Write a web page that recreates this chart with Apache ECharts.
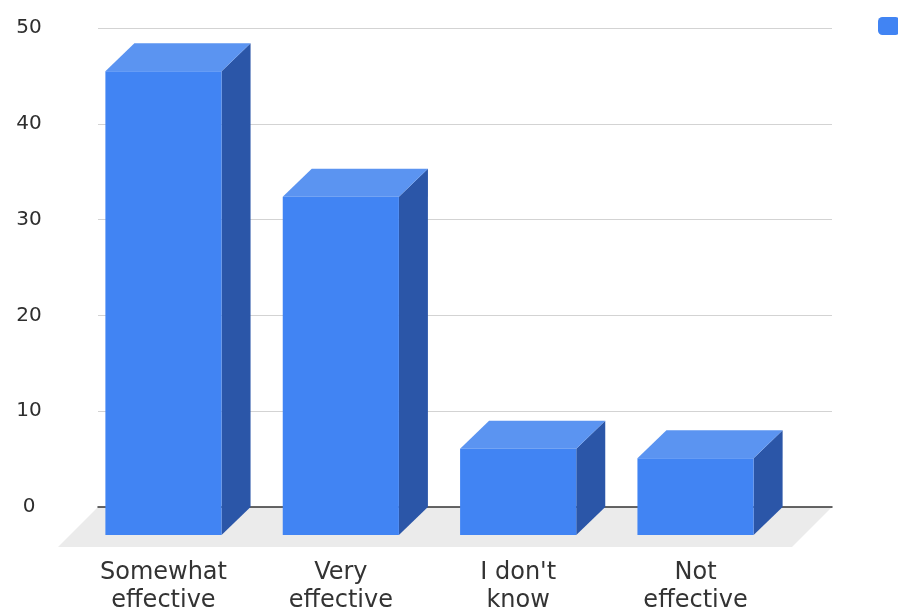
<!DOCTYPE html>
<html>
<head>
<meta charset="utf-8">
<title>Effectiveness responses</title>
<script src="https://cdn.jsdelivr.net/npm/echarts@6/dist/echarts.min.js"></script>
<style>
  html, body { margin: 0; padding: 0; background: #ffffff; }
  #chart { width: 898px; height: 615px; }
</style>
</head>
<body>
<div id="chart"></div>
<script>
// Survey answers and how many respondents chose each one
const categories = ['Somewhat effective', 'Very effective', "I don't know", 'Not effective'];
const responses = [48.4, 35.3, 9.0, 8.0];
const seriesName = 'Responses';

// Value axis range and step
const axisMin = 0;
const axisMax = 50;
const axisStep = 10;

// Pseudo-3D look: bars are extruded backwards (up and to the right)
const BAR_DEPTH_X = 29;
const BAR_DEPTH_Y = 28;
const FLOOR_DEPTH = 40;
const BAR_FILL = 0.655;

const COLOR_FRONT = '#4184f3';
const COLOR_TOP = '#5b94f1';
const COLOR_SIDE = '#2b56a8';
const COLOR_FLOOR = '#ebebeb';

const chart = echarts.init(document.getElementById('chart'), null, { renderer: 'canvas' });

function splitLabel(name) {
  const i = name.lastIndexOf(' ');
  return i < 0 ? name : name.slice(0, i) + '\n' + name.slice(i + 1);
}

// Floor plane in front of the back wall
function renderFloor(params, api) {
  const cs = params.coordSys;
  const yBack = api.coord([0, axisMin])[1];
  const xl = cs.x, xr = cs.x + cs.width;
  return {
    type: 'polygon',
    shape: {
      points: [
        [xl, yBack], [xr, yBack],
        [xr - FLOOR_DEPTH, yBack + FLOOR_DEPTH],
        [xl - FLOOR_DEPTH, yBack + FLOOR_DEPTH]
      ]
    },
    style: { fill: COLOR_FLOOR }
  };
}

// One extruded column: front face, top face, right side face
function renderBar(params, api) {
  const idx = api.value(0);
  const val = api.value(1);
  const top = api.coord([idx, val]);
  const base = api.coord([idx, axisMin]);
  const w = api.size([1, 0])[0] * BAR_FILL;
  const x0 = top[0] - w / 2;
  const x1 = top[0] + w / 2;
  const yt = top[1];
  const yb = base[1];
  const dx = BAR_DEPTH_X, dy = BAR_DEPTH_Y;
  return {
    type: 'group',
    children: [
      {
        type: 'polygon',
        shape: { points: [[x1, yt], [x1 + dx, yt - dy], [x1 + dx, yb - dy], [x1, yb]] },
        style: { fill: COLOR_SIDE }
      },
      {
        type: 'polygon',
        shape: { points: [[x0, yt], [x0 + dx, yt - dy], [x1 + dx, yt - dy], [x1, yt]] },
        style: { fill: COLOR_TOP }
      },
      {
        type: 'rect',
        shape: { x: x0, y: yt, width: w, height: yb - yt },
        style: { fill: COLOR_FRONT }
      }
    ]
  };
}

const option = {
  backgroundColor: '#ffffff',
  animation: false,
  legend: {
    data: [seriesName],
    left: 873,
    top: 12,
    itemWidth: 22,
    itemHeight: 18,
    icon: 'roundRect',
    textStyle: { fontFamily: 'DejaVu Sans', fontSize: 18, color: '#333' }
  },
  grid: [
    // back wall, carries the value gridlines
    { left: 98, right: 66, top: 28, bottom: 108 },
    // front plane of the columns
    { left: 74.8, right: 113.8, top: 56, bottom: 80 }
  ],
  xAxis: [
    {
      type: 'category',
      gridIndex: 0,
      data: categories,
      z: 2,
      axisLine: { show: true, lineStyle: { color: '#333333', width: 1.5 } },
      axisTick: { show: false },
      axisLabel: { show: false },
      splitLine: { show: false }
    },
    {
      type: 'category',
      gridIndex: 1,
      data: categories,
      axisLine: { show: false },
      axisTick: { show: false },
      axisLabel: {
        interval: 0,
        margin: 24,
        formatter: splitLabel,
        fontFamily: 'DejaVu Sans',
        fontSize: 24,
        lineHeight: 28,
        color: '#333333'
      }
    }
  ],
  yAxis: [
    {
      type: 'value',
      gridIndex: 0,
      min: axisMin,
      max: axisMax,
      interval: axisStep,
      axisLine: { show: false },
      axisTick: { show: false },
      axisLabel: {
        margin: 69,
        align: 'center',
        fontFamily: 'DejaVu Sans',
        fontSize: 20,
        color: '#2e2e2e'
      },
      splitLine: { lineStyle: { color: '#d3d3d3', width: 1 } }
    },
    {
      type: 'value',
      gridIndex: 1,
      min: axisMin,
      max: axisMax,
      interval: axisStep,
      show: false
    }
  ],
  series: [
    {
      type: 'custom',
      name: 'floor',
      xAxisIndex: 0,
      yAxisIndex: 0,
      z: 1,
      silent: true,
      data: [[0, 0]],
      renderItem: renderFloor
    },
    {
      type: 'custom',
      name: seriesName,
      xAxisIndex: 1,
      yAxisIndex: 1,
      z: 3,
      itemStyle: { color: COLOR_FRONT },
      encode: { x: 0, y: 1 },
      data: responses.map((v, i) => [i, v]),
      renderItem: renderBar
    }
  ]
};

chart.setOption(option);
</script>
</body>
</html>
